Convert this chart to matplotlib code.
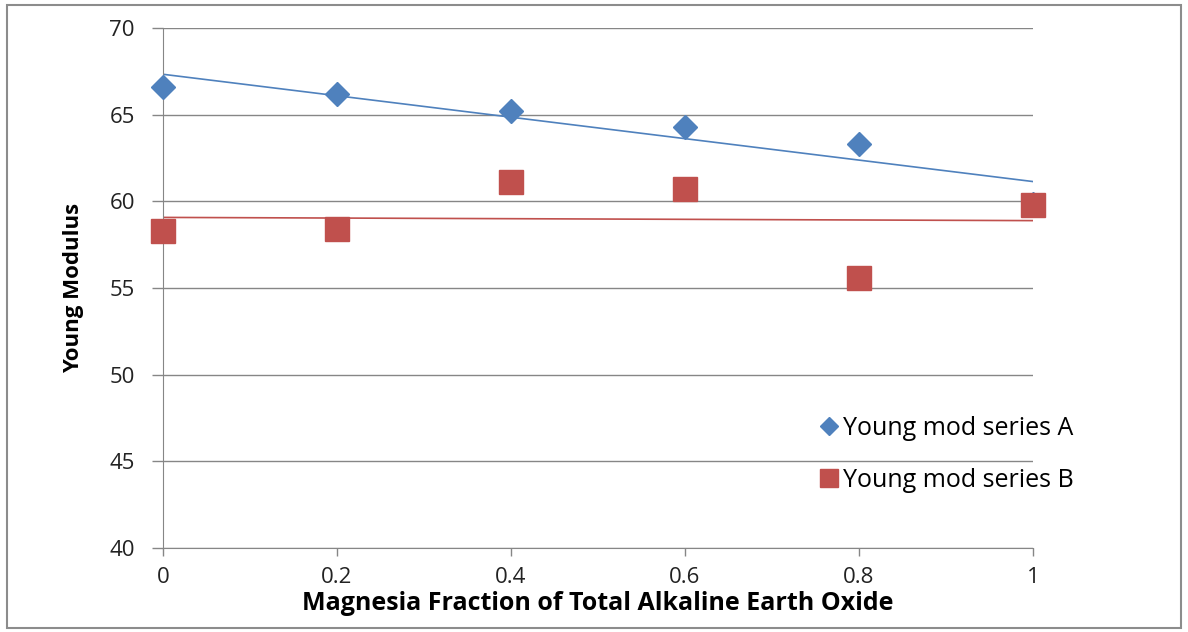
import matplotlib.pyplot as plt
import numpy as np
from matplotlib.patches import Rectangle

# valeurs
fraction = [0, 0.2, 0.4, 0.6, 0.8, 1.0]
young_a = [66.6, 66.2, 65.2, 64.3, 63.3, 59.85]
young_b = [58.3, 58.4, 61.1, 60.7, 55.6, 59.8]
y_ticks = [40, 45, 50, 55, 60, 65, 70]
x_ticks = [0, 0.2, 0.4, 0.6, 0.8, 1]
x_labels = ['0', '0.2', '0.4', '0.6', '0.8', '1']

BLUE = '#4F81BD'
RED = '#C0504D'

plt.rcParams['font.family'] = ['Open Sans', 'DejaVu Sans']

fig = plt.figure(figsize=(11.88, 6.32), dpi=100)
ax = fig.add_axes([0.137, 0.133, 0.7325, 0.8225])

# cadre gris autour de la figure
fig.patches.append(Rectangle((0.006, 0.007), 0.988, 0.985, transform=fig.transFigure,
                             fill=False, edgecolor='#8C8C8C', linewidth=1.5))

# droites de tendance (moindres carrés)
x = np.array(fraction)
for ys, color in [(young_a, BLUE), (young_b, RED)]:
    k, b = np.polyfit(x, ys, 1)
    ax.plot([0, 1], [b, k + b], color=color, linewidth=1.2, zorder=2)

ax.plot(fraction, young_a, linestyle='none', marker='D', markersize=12.5,
        color=BLUE, label='Young mod series A', zorder=3, clip_on=False)
ax.plot(fraction, young_b, linestyle='none', marker='s', markersize=17,
        color=RED, label='Young mod series B', zorder=4, clip_on=False)

ax.set_xlim(0, 1)
ax.set_ylim(40, 70)
ax.set_xticks(x_ticks)
ax.set_xticklabels(x_labels)
ax.set_yticks(y_ticks)
ax.tick_params(axis='both', labelsize=16, colors='#868686', labelcolor='#222222')
ax.tick_params(axis='y', length=8, width=1, pad=12)
ax.tick_params(axis='x', length=6, width=1, pad=8)

ax.grid(True, axis='y', color='#868686', linewidth=1)
ax.set_axisbelow(True)
for side in ['top', 'right']:
    ax.spines[side].set_visible(False)
for side in ['left', 'bottom']:
    ax.spines[side].set_color('#868686')

ax.set_xlabel('Magnesia Fraction of Total Alkaline Earth Oxide', fontsize=18,
              fontweight='bold', labelpad=2)
ax.set_ylabel('Young Modulus', fontsize=16, fontweight='bold', labelpad=18)

ax.legend(loc='center left', bbox_to_anchor=(0.74, 0.18), frameon=False,
          fontsize=18, handletextpad=0.05, labelspacing=1.1, borderaxespad=0,
          handlelength=1.0, markerscale=0.75)

plt.savefig('out.png', dpi=100)
plt.close(fig)
